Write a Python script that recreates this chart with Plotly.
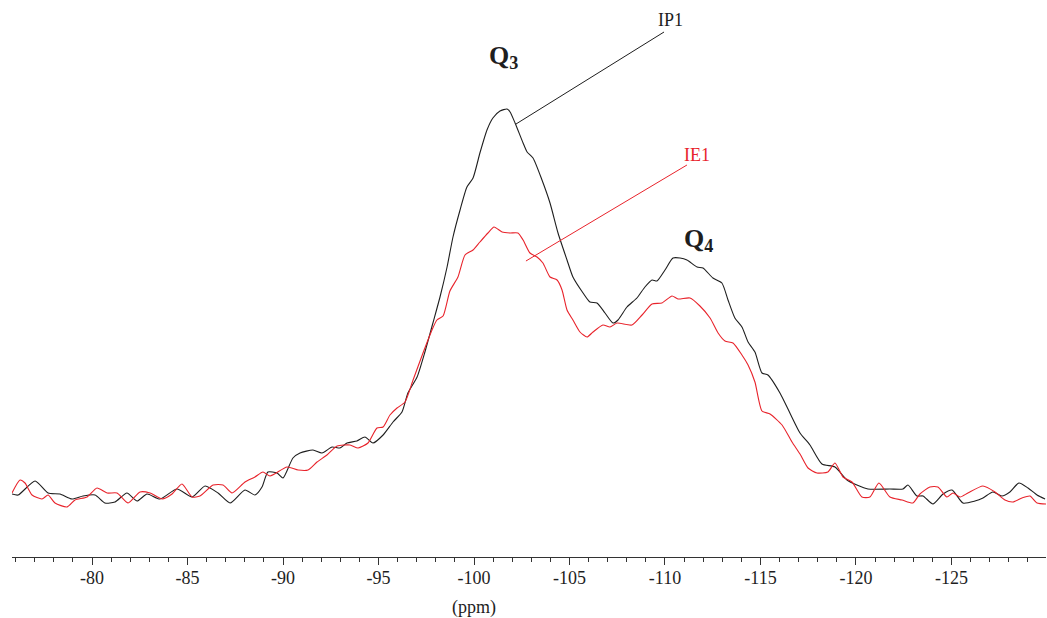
import plotly.graph_objects as go

# Chemical shift (ppm) and intensity (a.u.)
ip1_ppm = [-75.81, -76.13, -77.02, -77.70, -78.32, -78.95, -79.53, -80.16, -80.68, -81.20,
           -81.83, -82.36, -82.88, -83.56, -84.45, -85.24, -85.92, -86.60, -87.23, -88.01,
           -88.53, -88.90, -89.21, -89.69, -90.00, -90.52, -90.89, -91.57, -92.04, -92.57,
           -92.98, -93.35, -93.87, -94.29, -94.71, -95.24, -95.76, -96.23, -96.54, -97.02,
           -97.43, -97.85, -98.22, -98.59, -98.90, -99.27, -99.63, -99.95, -100.31, -100.68,
           -100.99, -101.36, -101.73, -101.89, -102.15, -102.57, -102.78, -103.09, -103.56, -103.98,
           -104.40, -104.87, -105.18, -105.71, -106.07, -106.44, -106.86, -107.28, -107.54, -108.01,
           -108.53, -108.95, -109.32, -109.58, -110.00, -110.42, -110.79, -111.15, -111.68, -111.99,
           -112.51, -112.98, -113.30, -113.66, -114.03, -114.35, -114.71, -115.08, -115.39, -116.02,
           -116.54, -117.07, -117.59, -118.22, -118.90, -119.53, -120.05, -120.63, -121.78, -122.46,
           -122.72, -123.19, -123.51, -124.03, -124.56, -125.03, -125.60, -126.23, -126.65, -127.17,
           -127.64, -128.06, -128.53, -129.01, -129.48, -129.90]
ip1_int = [6, 5, 19, 7, 6, 1, 4, 5, -3, -2,
           7, -1, 6, 1, 11, 3, 14, 7, -3, 10,
           5, 13, 28, 27, 22, 42, 47, 50, 47, 53,
           52, 57, 59, 63, 57, 65, 78, 88, 107, 123,
           148, 177, 203, 233, 263, 290, 313, 322, 347, 370,
           382, 389, 391, 388, 377, 357, 348, 342, 320, 297,
           267, 240, 223, 207, 198, 197, 187, 177, 180, 193,
           202, 213, 220, 219, 230, 242, 242, 240, 233, 232,
           222, 217, 200, 182, 173, 158, 148, 127, 125, 107,
           87, 67, 55, 36, 33, 20, 15, 11, 11, 11,
           15, 4, 4, -4, 6, 10, -3, -1, 2, 8,
           4, 8, 17, 12, 5, 1]

ie1_ppm = [-75.81, -76.23, -76.49, -76.86, -77.38, -77.70, -78.06, -78.69, -79.11, -79.74,
           -80.26, -80.79, -81.31, -81.89, -82.51, -83.04, -83.67, -84.19, -84.71, -85.24,
           -85.65, -86.34, -86.86, -87.33, -88.01, -88.53, -88.95, -89.32, -90.21, -90.79,
           -91.31, -91.78, -92.30, -92.83, -93.51, -93.93, -94.45, -94.92, -95.24, -95.60,
           -95.97, -96.39, -96.81, -97.33, -97.80, -98.06, -98.38, -98.74, -99.16, -99.53,
           -99.95, -100.31, -100.73, -101.05, -101.47, -101.89, -102.30, -102.57, -102.93, -103.30,
           -103.61, -103.98, -104.35, -104.61, -104.87, -105.18, -105.55, -105.92, -106.23, -106.75,
           -107.12, -107.49, -108.27, -108.80, -109.32, -109.84, -110.37, -110.68, -111.31, -111.83,
           -112.36, -112.78, -113.14, -113.56, -114.03, -114.35, -114.71, -115.08, -115.50, -116.13,
           -116.65, -117.07, -117.49, -117.96, -118.53, -118.90, -119.32, -119.79, -120.31, -120.73,
           -121.20, -121.78, -122.41, -122.98, -123.35, -123.87, -124.29, -124.76, -125.08, -125.45,
           -125.86, -126.65, -127.28, -127.80, -128.22, -128.69, -129.11, -129.48, -130.00]
ie1_int = [7, 20, 17, 5, 1, 5, -3, -7, 0, 3,
           12, 7, 7, -3, 8, 7, 1, 6, 16, 3,
           4, 15, 15, 7, 18, 23, 28, 24, 33, 30,
           30, 38, 45, 54, 55, 52, 57, 72, 73, 85,
           92, 98, 120, 147, 170, 180, 184, 209, 223, 245,
           250, 258, 267, 273, 268, 267, 267, 260, 247, 243,
           237, 223, 220, 210, 190, 180, 168, 163, 168, 175,
           173, 177, 175, 185, 196, 197, 204, 201, 202, 194,
           182, 167, 159, 157, 145, 135, 118, 89, 86, 75,
           58, 46, 32, 27, 28, 37, 23, 18, 3, 3,
           17, 3, 0, -3, 6, 13, 13, 3, 7, 3,
           7, 14, 8, 0, -2, 2, 4, -3, -4]

tick_vals = [-80, -85, -90, -95, -100, -105, -110, -115, -120, -125]
tick_text = ["-80", "-85", "-90", "-95", "-100", "-105", "-110", "-115", "-120", "-125"]

BLACK = "#1e1e1e"
RED = "#e8232b"
SERIF = "Liberation Serif, Times New Roman, serif"

fig = go.Figure()
fig.add_trace(go.Scatter(x=ip1_ppm, y=ip1_int, mode="lines", name="IP1",
                         line=dict(color=BLACK, width=1.1, shape="spline", smoothing=0.6)))
fig.add_trace(go.Scatter(x=ie1_ppm, y=ie1_int, mode="lines", name="IE1",
                         line=dict(color=RED, width=1.1, shape="spline", smoothing=0.6)))

# leader lines
fig.add_shape(type="line", xref="x", yref="y", x0=-109.95, y0=468, x1=-102.20, y1=376,
              line=dict(color=BLACK, width=1))
fig.add_shape(type="line", xref="x", yref="y", x0=-111.15, y0=335, x1=-102.72, y1=239,
              line=dict(color=RED, width=1))

fig.add_annotation(x=-110.31, y=480, xref="x", yref="y", text="IP1", showarrow=False,
                   font=dict(family=SERIF, size=18, color=BLACK))
fig.add_annotation(x=-111.68, y=345, xref="x", yref="y", text="IE1", showarrow=False,
                   font=dict(family=SERIF, size=18, color=RED))
fig.add_annotation(x=-101.52, y=443, xref="x", yref="y", text="<b>Q<sub>3</sub></b>",
                   showarrow=False, font=dict(family=SERIF, size=26, color=BLACK))
fig.add_annotation(x=-111.78, y=260, xref="x", yref="y", text="<b>Q<sub>4</sub></b>",
                   showarrow=False, font=dict(family=SERIF, size=26, color=BLACK))
fig.add_annotation(x=-100.0, y=-0.0898, xref="x", yref="paper", yanchor="middle",
                   text="(ppm)", showarrow=False,
                   font=dict(family=SERIF, size=18, color=BLACK))

fig.update_layout(
    width=1047, height=618,
    margin=dict(l=12, r=1, t=0, b=61),
    paper_bgcolor="white", plot_bgcolor="white",
    showlegend=False,
    xaxis=dict(range=[-75.81, -129.95], showgrid=False, zeroline=False,
               showline=True, linecolor="#333333", linewidth=1,
               ticks="outside", ticklen=7, tickwidth=1, tickcolor="#333333",
               tickvals=tick_vals, ticktext=tick_text, ticklabelstandoff=-3,
               tickfont=dict(family=SERIF, size=18, color=BLACK),
               minor=dict(dtick=1, tick0=-80, ticks="outside", ticklen=4,
                          tickwidth=1, tickcolor="#333333")),
    yaxis=dict(range=[-57, 500], visible=False, showgrid=False, zeroline=False),
)

fig.write_html("out.html")
